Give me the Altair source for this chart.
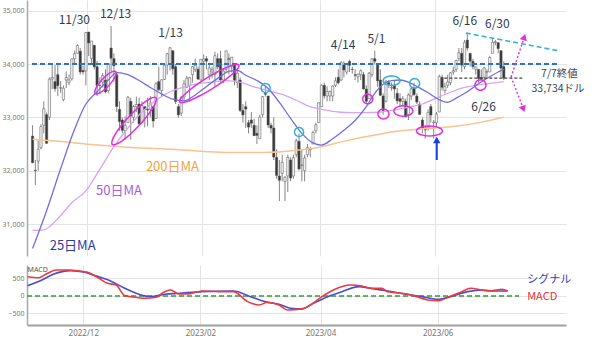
import math
import altair as alt
import pandas as pd

# ---------------- data ----------------
dates = (
    ["2022-11-%02d" % d for d in [2, 3, 4, 7, 8, 9, 10, 11, 14, 15, 16, 17, 18, 21, 22, 23, 25, 28, 29, 30]]
    + ["2022-12-%02d" % d for d in [1, 2, 5, 6, 7, 8, 9, 12, 13, 14, 15, 16, 19, 20, 21, 22, 23, 27, 28, 29, 30]]
    + ["2023-01-%02d" % d for d in [3, 4, 5, 6, 9, 10, 11, 12, 13, 17, 18, 19, 20, 23, 24, 25, 26, 27, 30, 31]]
    + ["2023-02-%02d" % d for d in [1, 2, 3, 6, 7, 8, 9, 10, 13, 14, 15, 16, 17, 21, 22, 23, 24, 27, 28]]
    + ["2023-03-%02d" % d for d in [1, 2, 3, 6, 7, 8, 9, 10, 13, 14, 15, 16, 17, 20, 21, 22, 23, 24, 27, 28, 29, 30, 31]]
    + ["2023-04-%02d" % d for d in [3, 4, 5, 6, 10, 11, 12, 13, 14, 17, 18, 19, 20, 21, 24, 25, 26, 27, 28]]
    + ["2023-05-%02d" % d for d in [1, 2, 3, 4, 5, 8, 9, 10, 11, 12, 15, 16, 17, 18, 19, 22, 23, 24, 25, 26, 30, 31]]
    + ["2023-06-%02d" % d for d in [1, 2, 5, 6, 7, 8, 9, 12, 13, 14, 15, 16, 20, 21, 22, 23, 26, 27, 28, 29, 30]]
    + ["2023-07-%02d" % d for d in [3, 5, 6, 7]]
)

opens = [
    32650, 32010, 32180, 32430, 32850, 33050, 33000, 33720, 33670, 33800, 33550, 33330, 33700, 33650, 33720, 34100, 34200, 34240, 33880, 33870,
    34600, 34100, 34350, 33950, 33600, 33660, 33700, 33500, 34300, 34100, 33800, 33150, 32950, 32750, 32900, 33300, 33000, 33200, 33250, 32900, 33200,
    33150, 33150, 33200, 32980, 33670, 33500, 33710, 33980, 34000, 34250, 33950, 33200, 33080, 33380, 33570, 33600, 33800, 33900, 33900, 33700,
    34050, 34100, 33800, 33850, 33800, 34100, 34100, 33700, 33900, 34100, 33950, 34000, 33650, 33700, 33130, 33200, 32900, 32950, 32850,
    32700, 32600, 33050, 33450, 33400, 32850, 32800, 32250, 31900, 31950, 31800, 31900, 32200, 31900, 32300, 32550, 32100, 32000, 32300, 32400, 32500, 32750, 32900,
    33200, 33600, 33400, 33400, 33400, 33600, 33750, 33700, 33980, 33850, 34050, 33900, 33800, 33760, 33800, 33800, 33530, 33350, 33800,
    34100, 34000, 33700, 33400, 33300, 33650, 33550, 33600, 33450, 33350, 33300, 33300, 33050, 33400, 33550, 33400, 33250, 32950, 32800, 32800, 33200, 32900,
    32900, 33100, 33750, 33500, 33600, 33650, 33850, 33900, 34100, 34200, 33950, 34450, 34200, 34050, 33900, 33900, 33750, 33750, 33850, 33850, 34200,
    34400, 34400, 34250, 33950,
]
highs = [
    32850, 32200, 32570, 32870, 33300, 33090, 33750, 33990, 33980, 33990, 33680, 33600, 33860, 33800, 34100, 34250, 34370, 34300, 33970, 34600,
    34600, 34430, 34360, 34060, 33750, 33830, 33900, 34010, 34712, 34200, 33850, 33300, 33000, 33020, 33400, 33370, 33230, 33390, 33370, 33300, 33200,
    33370, 33400, 33200, 33660, 33950, 33710, 33980, 34210, 34320, 34250, 34000, 33250, 33400, 33700, 33780, 33760, 33960, 34100, 33950, 34090,
    34180, 34150, 34000, 33950, 34230, 34200, 34250, 33900, 34250, 34200, 34130, 34000, 33900, 33750, 33250, 33300, 32950, 33100, 32970,
    32850, 33050, 33400, 33570, 33400, 32900, 33000, 32400, 32200, 32300, 31900, 32300, 32250, 32300, 32600, 32700, 32400, 32300, 32500, 32450, 32750, 32900, 33280,
    33620, 33650, 33580, 33500, 33600, 33750, 33900, 34050, 34050, 34000, 34080, 33950, 33900, 33820, 33900, 33850, 33600, 33850, 34100,
    34250, 34000, 33900, 33450, 33700, 33700, 33650, 33700, 33550, 33450, 33400, 33350, 33450, 33560, 33650, 33450, 33300, 33000, 32850, 33150, 33250, 32950,
    33100, 33800, 33800, 33650, 33800, 33850, 33950, 34080, 34300, 34300, 34450, 34590, 34200, 34100, 33950, 33900, 33900, 33950, 33900, 34150, 34480,
    34450, 34400, 34250, 34050,
]
lows = [
    32140, 31730, 32000, 32400, 32700, 32500, 32950, 33530, 33480, 33400, 33460, 33300, 33550, 33600, 33690, 34020, 34200, 33800, 33800, 33600,
    34150, 34000, 33900, 33400, 33430, 33560, 33450, 33450, 33860, 33670, 33100, 32750, 32700, 32580, 32900, 32580, 32900, 33100, 32870, 32880, 32810,
    32830, 33000, 32810, 32970, 33490, 33380, 33700, 33800, 33880, 33800, 33250, 32990, 33030, 33300, 33550, 33300, 33650, 33850, 33700, 33690,
    33700, 33900, 33700, 33730, 33580, 33900, 33650, 33640, 33850, 33800, 33840, 33600, 33550, 33100, 32900, 32800, 32700, 32800, 32650,
    32500, 32600, 33000, 33390, 32800, 32700, 32200, 31850, 31430, 31800, 31430, 31600, 31800, 31850, 32250, 32000, 31800, 31800, 32250, 32250, 32500, 32700, 32900,
    33200, 33350, 33300, 33300, 33300, 33570, 33620, 33680, 33750, 33800, 33850, 33820, 33700, 33650, 33700, 33520, 33250, 33350, 33750,
    34000, 33570, 33400, 33050, 33280, 33550, 33500, 33350, 33250, 33200, 33200, 33000, 32950, 33320, 33400, 33250, 33040, 32700, 32600, 32750, 32900, 32600,
    32800, 33100, 33500, 33450, 33550, 33600, 33800, 33850, 34050, 33850, 33900, 34250, 33950, 33900, 33800, 33650, 33700, 33700, 33750, 33850, 34200,
    34350, 34200, 33750, 33700,
]
closes = [
    32148, 32001, 32403, 32827, 33161, 32514, 33716, 33748, 33537, 33593, 33554, 33547, 33746, 33700, 34098, 34194, 34347, 33850, 33853, 34590,
    34395, 34430, 33947, 33597, 33598, 33781, 33477, 34006, 34108, 33966, 33203, 32920, 32757, 32850, 33377, 33027, 33204, 33241, 32876, 33221, 33147,
    33136, 33270, 32931, 33631, 33518, 33704, 33974, 34190, 34303, 33910, 33297, 33045, 33375, 33629, 33734, 33744, 33949, 33978, 33717, 34086,
    34093, 34054, 33926, 33891, 34156, 33949, 33699, 33869, 34246, 34089, 34128, 33697, 33827, 33130, 33045, 33154, 32817, 32889, 32657,
    32662, 33004, 33391, 33432, 32856, 32798, 32255, 31910, 31820, 32155, 31875, 32247, 31862, 32245, 32561, 32031, 32106, 32238, 32432, 32394, 32717, 32860, 33274,
    33601, 33403, 33483, 33485, 33587, 33685, 33647, 34030, 33887, 33988, 33977, 33897, 33787, 33809, 33876, 33531, 33302, 33827, 34098,
    34051, 33684, 33414, 33128, 33675, 33619, 33562, 33531, 33310, 33301, 33349, 33012, 33420, 33536, 33427, 33286, 33056, 32800, 32765, 33093, 33043, 32908,
    33061, 33763, 33563, 33573, 33665, 33834, 33877, 34066, 34212, 33979, 34408, 34299, 34053, 33952, 33947, 33727, 33714, 33927, 33853, 34122, 34408,
    34418, 34288, 33922, 33735,
]

# moving averages (sampled along the drawn curves, x = trading-day index)
ma25_idx = [0, 5, 10, 15, 19, 23, 27, 30, 34, 38, 42, 46, 50, 54, 58, 62, 66, 70, 73, 76, 80, 84, 88, 92, 96, 100, 103, 107, 111, 115, 119, 122, 125, 128, 131, 134, 137, 141, 145, 148, 151, 155, 159, 163, 166, 168]
ma25_val = [30540, 31250, 32035, 32780, 33250, 33480, 33700, 33840, 33800, 33690, 33560, 33440, 33340, 33310, 33420, 33580, 33730, 33860, 33880, 33790, 33690, 33540, 33280, 32980, 32700, 32520, 32480, 32600, 32760, 32940, 33200, 33450, 33620, 33690, 33700, 33660, 33580, 33460, 33330, 33280, 33360, 33480, 33630, 33760, 33850, 33900]

ma50_idx = [0, 4, 9, 14, 19, 24, 29, 34, 39, 44, 49, 54, 59, 64, 69, 74, 79, 84, 89, 94, 99, 104, 109, 114, 119, 124, 129, 134, 139, 144, 149, 154, 159, 164, 168]
ma50_val = [30880, 30890, 31100, 31400, 31620, 32030, 32450, 32800, 33100, 33320, 33480, 33570, 33630, 33660, 33690, 33660, 33570, 33500, 33430, 33320, 33200, 33140, 33100, 33090, 33090, 33100, 33140, 33190, 33250, 33360, 33470, 33560, 33610, 33640, 33670]

ma200_idx = [0, 14, 21, 37, 50, 61, 70, 82, 96, 103, 110, 119, 130, 141, 152, 160, 168]
ma200_val = [32590, 32530, 32490, 32430, 32400, 32360, 32340, 32340, 32390, 32450, 32540, 32640, 32740, 32790, 32840, 32910, 33000]

# MACD panel
macd_idx = [0, 4, 7, 10, 14, 18, 21, 25, 28, 31, 34, 38, 41, 45, 47, 50, 53, 56, 61, 67, 72, 77, 81, 84, 88, 91, 96, 99, 103, 107, 113, 117, 120, 124, 126, 131, 135, 140, 144, 147, 152, 155, 159, 162, 166, 168]
macd_val = [551, 523, 650, 743, 743, 714, 676, 505, 362, 314, 10, -38, -67, -38, 76, 171, 57, 57, 143, 124, 124, -162, -257, -181, -257, -400, -370, -257, -19, 171, 314, 286, 219, 219, 124, 76, 10, -114, -133, -38, 124, 219, 171, 143, 191, 143]
sig_idx = [0, 5, 9, 15, 20, 23, 29, 34, 39, 43, 48, 53, 61, 72, 78, 83, 88, 92, 96, 100, 105, 110, 116, 120, 126, 132, 138, 144, 148, 154, 159, 163, 168]
sig_val = [295, 457, 619, 724, 676, 600, 429, 219, 48, -19, 48, 76, 124, 143, -19, -162, -238, -352, -371, -210, -19, 124, 267, 219, 143, 57, -19, -95, -19, 124, 171, 143, 143]

# axis ticks
month_first = ["2022-12-01", "2023-02-01", "2023-04-03", "2023-06-01"]
month_labels = ["2022/12", "2023/02", "2023/04", "2023/06"]
price_ticks = [31000, 32000, 33000, 34000, 35000]
macd_ticks = [-500, 0, 500]

# annotations (data coordinates: trading-day index, price)
date_lbl = ["11/30", "12/13", "1/13", "4/14", "5/1", "6/16", "6/30", "6/26"]
date_lbl_i = [14.9, 29.6, 49.2, 110.7, 122.6, 154.1, 165.7, 160.8]
date_lbl_p = [34825, 34938, 34581, 34356, 34469, 34806, 34750, 33194]

ma_lbl = ["25日MA", "50日MA", "200日MA"]
ma_lbl_i = [6.1, 22.6, 40.4]
ma_lbl_p = [30588, 31610, 32060]

close_lbl = ["7/7終値", "33,734ドル"]
close_lbl_i = [194.4, 196.8]
close_lbl_p = [33810, 33522]

# ---------------- styling ----------------
FONT = "Noto Sans CJK JP"
TXT = "#2f3b52"
C25, C50, C200 = "#6f6fe0", "#d7a3f2", "#f7c48f"
MAG, CYAN = "#e22ee0", "#2fb3cf"
GRID = "#e4e4e4"

X0, X1 = -0.2, 188.4
xscale = alt.Scale(domain=[X0, X1], zero=False, nice=False)
yscale = alt.Scale(domain=[30400, 35200], zero=False, nice=False)
mscale = alt.Scale(domain=[-830, 886], zero=False, nice=False)

tick_pos = [dates.index(d) - 0.5 for d in month_first]
label_expr = "".join(f"datum.value == {v} ? '{l}' : " for v, l in zip(tick_pos, month_labels)) + "''"

candles = pd.DataFrame({"i": list(range(len(dates))), "date": dates,
                        "open": opens, "high": highs, "low": lows, "close": closes})

main_xaxis = alt.Axis(values=tick_pos, labels=False, ticks=False, domain=False, title=None,
                      grid=True, gridColor=GRID, gridWidth=1)
main_yaxis = alt.Axis(values=price_ticks, format=",d", title=None, ticks=False, domain=True,
                      domainColor="#a8a8a8", domainWidth=1.5, grid=True, gridColor=GRID,
                      labelFontSize=7, labelColor="#777", labelPadding=3, labelFont="Noto Sans",
                      minExtent=27, maxExtent=27)
macd_xaxis = alt.Axis(values=tick_pos, labelExpr=label_expr, ticks=False, domain=True,
                      domainColor="#a0a0a0", domainWidth=2, grid=True, gridColor=GRID,
                      labelFontSize=8, labelColor="#777", labelFont="Noto Sans",
                      labelPadding=4, title=None, labelFlush=False)
macd_yaxis = alt.Axis(values=macd_ticks, title=None, ticks=False, domain=True,
                      domainColor="#a8a8a8", domainWidth=1.5, grid=True, gridColor=GRID,
                      labelFontSize=7, labelColor="#777", labelFont="Noto Sans",
                      labelPadding=3, minExtent=27, maxExtent=27)


def xm(field="i"):
    return alt.X(f"{field}:Q", scale=xscale, axis=main_xaxis)


def ym(field):
    return alt.Y(f"{field}:Q", scale=yscale, axis=main_yaxis)


def xd(field="i"):
    return alt.X(f"{field}:Q", scale=xscale, axis=macd_xaxis)


def yd(field):
    return alt.Y(f"{field}:Q", scale=mscale, axis=macd_yaxis)


wick = alt.Chart(candles).mark_rule(color="#666", strokeWidth=0.8).encode(
    x=xm(), y=ym("low"), y2="high:Q")
body = alt.Chart(candles).mark_bar(size=2.3, stroke="#555", strokeWidth=0.5).encode(
    x=xm(), y=ym("open"), y2="close:Q",
    fill=alt.condition("datum.close >= datum.open", alt.value("#f2f2f2"), alt.value("#383838")))


def ma_layer(ix, vals, color, width):
    df = pd.DataFrame({"i": ix, "v": vals})
    return alt.Chart(df).mark_line(color=color, strokeWidth=width, interpolate="monotone").encode(
        x=xm(), y=ym("v"))


ma200 = ma_layer(ma200_idx, ma200_val, C200, 1.5)
ma50 = ma_layer(ma50_idx, ma50_val, C50, 1.3)
ma25 = ma_layer(ma25_idx, ma25_val, C25, 1.3)


def seg(i1, p1, i2, p2, color, width, dash):
    df = pd.DataFrame({"i": [i1], "p": [p1], "i2": [i2], "p2": [p2]})
    return alt.Chart(df).mark_rule(color=color, strokeWidth=width, strokeDash=dash).encode(
        x=xm(), x2="i2:Q", y=ym("p"), y2="p2:Q")


h34000 = seg(-0.2, 34000, 187.4, 34000, "#2e75b6", 1.8, [5, 3])
close_line = seg(146.8, 33734, 175.1, 33734, "#444444", 1.2, [3, 2])
cyan_line = seg(154.5, 34581, 187.0, 34253, CYAN, 1.6, [5, 3])
mag_up = seg(170.6, 33756, 174.9, 34440, MAG, 1.4, [2, 2])
mag_dn = seg(170.6, 33756, 174.6, 33215, MAG, 1.4, [2, 2])
blue_arrow = seg(144.1, 32200, 144.1, 32560, "#1d3ee0", 2.0, [1, 0])


def ellipse_path(ratio, n=32):
    pts = []
    for k in range(n):
        t = 2 * math.pi * k / n
        pts.append(f"{math.cos(t):.3f} {ratio * math.sin(t):.3f}")
    return "M" + " L".join(pts) + " Z"


ell = pd.DataFrame({
    "i": [26.0, 36.2, 63.0, 119.5, 125.1, 132.2, 141.5, 159.7, 83.1, 95.0, 128.0, 136.2],
    "p": [33653, 32931, 33634, 33344, 33063, 33119, 32744, 33606, 33550, 32725, 33687, 33638],
    "w": [30, 64, 70, 10, 11, 19, 26, 11, 9, 9, 17, 10],
    "ratio": [0.30, 0.21, 0.17, 0.95, 0.9, 0.55, 0.38, 0.95, 1.0, 1.0, 0.55, 0.95],
    "ang": [313, 313, 328, 0, 0, 0, 0, 0, 0, 0, 0, 0],
    "col": [MAG] * 8 + [CYAN] * 4,
})
ell["shape"] = [ellipse_path(r) for r in ell["ratio"]]
ell["size"] = ell["w"] ** 2
ellipses = alt.Chart(ell).mark_point(filled=False, strokeWidth=1.5, opacity=1).encode(
    x=xm(), y=ym("p"),
    shape=alt.Shape("shape:N", scale=None),
    size=alt.Size("size:Q", scale=None),
    angle=alt.Angle("ang:Q", scale=None),
    color=alt.Color("col:N", scale=None))

heads = pd.DataFrame({
    "i": [175.3, 175.0, 144.1],
    "p": [34506, 33156, 32575],
    "shape": ["triangle-up", "triangle-down", "triangle-up"],
    "ang": [18, 340, 0],
    "col": [MAG, MAG, "#1d3ee0"],
})
arrowheads = alt.Chart(heads).mark_point(filled=True, size=55, opacity=1, strokeWidth=0).encode(
    x=xm(), y=ym("p"),
    shape=alt.Shape("shape:N", scale=None),
    angle=alt.Angle("ang:Q", scale=None),
    color=alt.Color("col:N", scale=None))

date_text = alt.Chart(pd.DataFrame({"t": date_lbl, "i": date_lbl_i, "p": date_lbl_p})).mark_text(
    font=FONT, fontSize=12, color=TXT, align="center", baseline="middle").encode(
    x=xm(), y=ym("p"), text="t:N")
ma_text = alt.Chart(pd.DataFrame({"t": ma_lbl, "i": ma_lbl_i, "p": ma_lbl_p,
                                  "c": ["#2f3a9e", "#a65fdc", "#f2a444"]})).mark_text(
    font=FONT, fontSize=13, align="left", baseline="middle").encode(
    x=xm(), y=ym("p"), text="t:N", color=alt.Color("c:N", scale=None))
close_text = alt.Chart(pd.DataFrame({"t": close_lbl, "i": close_lbl_i, "p": close_lbl_p})).mark_text(
    font=FONT, fontSize=10.5, color="#3a4658", align="right", baseline="middle").encode(
    x=xm(), y=ym("p"), text="t:N")

left_bound = alt.Chart(pd.DataFrame({"a": [0]})).mark_rule(color="white", strokeWidth=1).encode(
    x=alt.value(-26.5), x2=alt.value(-25.5), y=alt.value(30), y2=alt.value(30))

main = alt.layer(
    wick, body, ma200, ma50, ma25, h34000, close_line, cyan_line, mag_up, mag_dn, blue_arrow,
    ellipses, arrowheads, date_text, ma_text, close_text, left_bound
).properties(width=539, height=256)

# ---------------- MACD panel ----------------
sig_df = pd.DataFrame({"i": sig_idx, "v": sig_val})
macd_df = pd.DataFrame({"i": macd_idx, "v": macd_val})

zero_line = alt.Chart(pd.DataFrame({"i": [-0.2], "i2": [172.0], "v": [0]})).mark_rule(
    color="#2ca02c", strokeWidth=1.6, strokeDash=[5, 3]).encode(
    x=xd(), x2="i2:Q", y=yd("v"))
sig_line = alt.Chart(sig_df).mark_line(color="#4a4ad6", strokeWidth=1.6, interpolate="monotone").encode(
    x=xd(), y=yd("v"))
macd_line = alt.Chart(macd_df).mark_line(color="#ec3b3b", strokeWidth=1.6, interpolate="monotone").encode(
    x=xd(), y=yd("v"))
legend_text = alt.Chart(pd.DataFrame({"t": ["シグナル", "MACD"], "i": [174.8, 174.8], "v": [457, -29],
                                      "c": ["#3c3cb8", "#e83030"]})).mark_text(
    font=FONT, fontSize=11, align="left", baseline="middle").encode(
    x=xd(), y=yd("v"), text="t:N", color=alt.Color("c:N", scale=None))
small_title = alt.Chart(pd.DataFrame({"t": ["MACD"], "i": [0.0], "v": [743]})).mark_text(
    font="Noto Sans", fontSize=7, color="#555", align="left", baseline="middle").encode(
    x=xd(), y=yd("v"), text="t:N")

macd = alt.layer(zero_line, sig_line, macd_line, legend_text, small_title, left_bound).properties(
    width=539, height=60)

chart = alt.vconcat(main, macd, spacing=9).properties(padding=0, background="white").configure_view(
    strokeWidth=0)

chart.save("out.html", embed_options={"renderer": "svg", "actions": False})
